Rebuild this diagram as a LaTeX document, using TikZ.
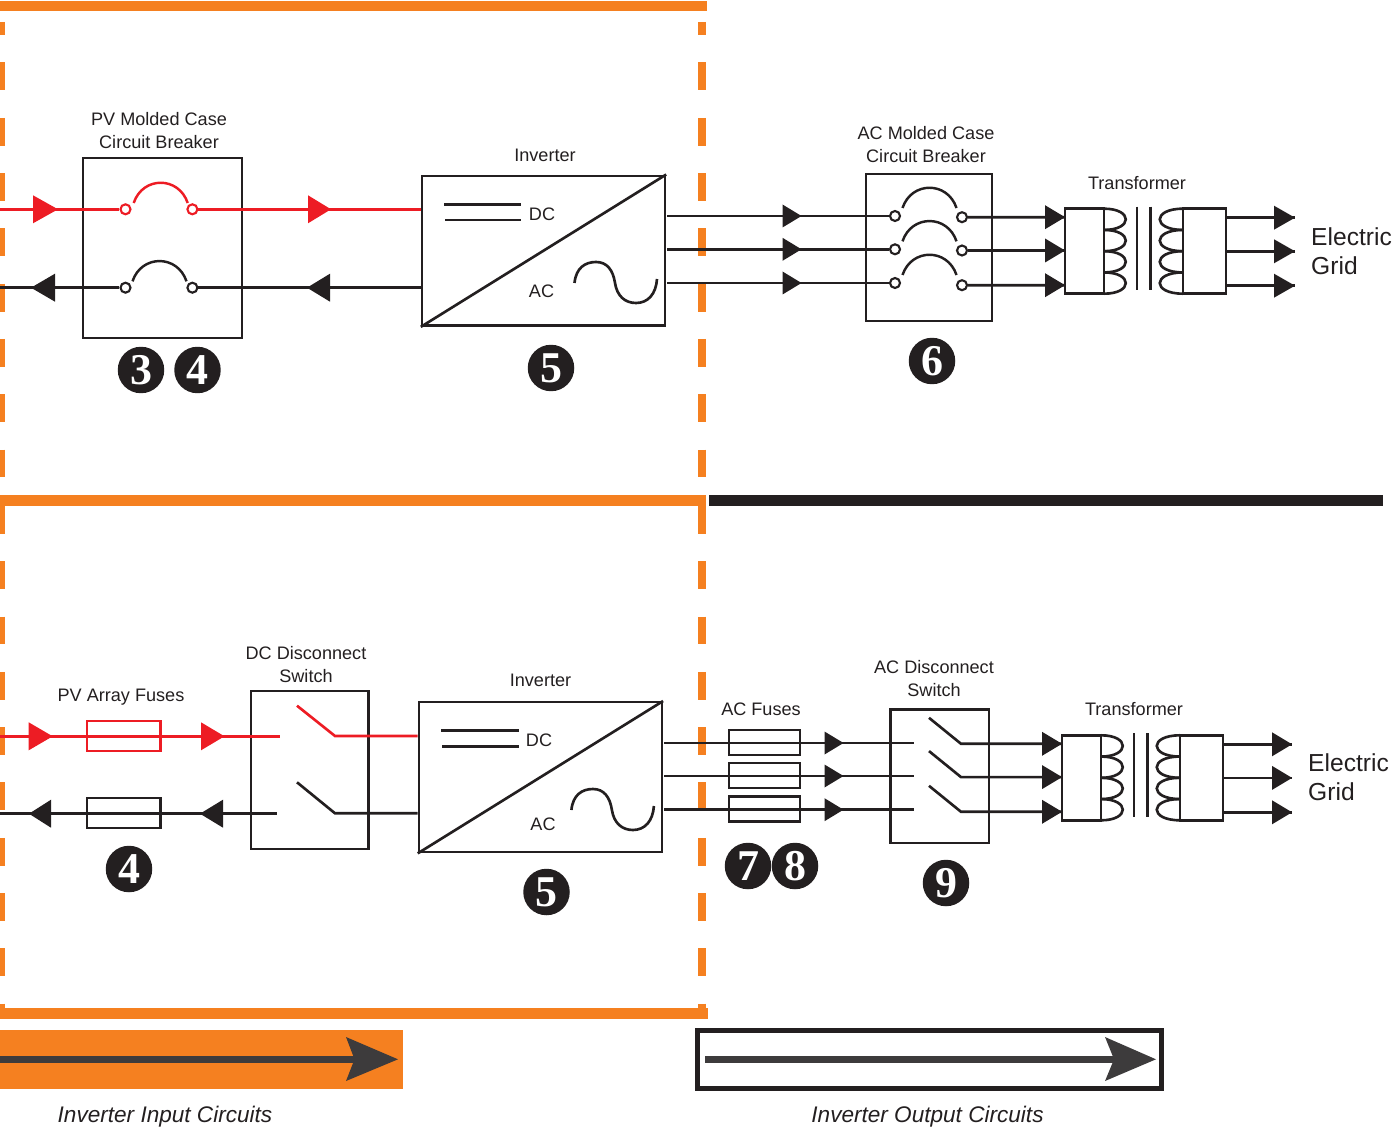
\documentclass[tikz,border=0pt]{standalone}
\usepackage{fontspec}
\setmainfont{Liberation Sans}
\newfontfamily\numfont{Liberation Serif}
\definecolor{inkblack}{HTML}{231F20}
\definecolor{pvred}{HTML}{ED1C24}
\definecolor{pvorange}{HTML}{F58020}
\definecolor{legendgray}{HTML}{3D3B3C}
\tikzset{
	wire/.style={line width=1.5pt, draw=inkblack},
	redwire/.style={line width=1.5pt, draw=pvred},
	box/.style={draw=inkblack, line width=1.35pt, inner sep=0pt},
	fuse/.style={draw=inkblack, line width=1.35pt, inner sep=0pt, minimum height=0.5cm},
	term/.style={circle, draw=inkblack, fill=white, line width=1.2pt, inner sep=0pt, minimum size=0.2cm},
	lbl/.style={text=inkblack, font=\fontsize{10.3}{12}\selectfont, align=center},
	biglbl/.style={text=inkblack, font=\fontsize{14}{16}\selectfont, anchor=west},
	capt/.style={text=inkblack, font=\fontsize{12.85}{15}\selectfont\itshape},
	numdot/.style={circle, fill=inkblack, text=white, inner sep=0pt, minimum size=0.93cm, font=\fontsize{25}{25}\selectfont\numfont\bfseries},
	dashbar/.style={draw=pvorange, dash pattern=on 15.87pt off 15.6pt},
	cbarc/.pic={\draw[pic actions, line width=1.4pt] (-27,20) .. controls (-18,-7) and (18,-7) .. (27,20);},
	sinewave/.pic={\draw[wire] (0,0) .. controls (1.5,-15) and (10.5,-21) .. (21.5,-21) .. controls (32.5,-21) and (38.5,-13) .. (40.5,0) .. controls (42.5,13) and (50.5,20) .. (61.5,20) .. controls (73.5,20) and (81.5,11) .. (82.5,-4);},
	xfmr/.pic={
		\foreach \t in {0,21.25,42.5,63.75} {
			\draw[wire] (39,\t) .. controls (68,\t) and (68,\t+21.25) .. (39,\t+21.25);
			\draw[wire] (118,\t) .. controls (87,\t) and (87,\t+21.25) .. (118,\t+21.25);
		}
		\draw[wire] (0,0) rectangle (39,85);
		\draw[wire] (118,0) rectangle (161,85);
		\draw[wire] (72,-2) -- (72,81.5);
		\draw[wire] (85.5,-2) -- (85.5,81.5);
		\foreach \n/\a/\b in {1/8.5/9, 2/41.8/42.6, 3/76.5/77} {
			\coordinate (-in\n) at (0,\a);
			\coordinate (-out\n) at (161,\b);
			\coordinate (-end\n) at (230,\b);
		}
	},
}
% tip point, length (negative points left), half height, colour
\newcommand{\head}[4]{\fill[#4] #1 -- ++({-1*(#2)},#3) -- ++(0,{-2*(#3)}) -- cycle;}
\begin{document}
\begin{tikzpicture}[x=0.02cm, y=-0.02cm]
	\useasboundingbox (0,0) rectangle (1398,1131);

	% orange frame and divider
	\fill[pvorange] (0,1) rectangle (707,11);
	\fill[pvorange] (0,495) rectangle (706,506);
	\fill[pvorange] (0,1008) rectangle (708,1019);
	\fill[inkblack] (709,495) rectangle (1383,506);
	\foreach \x/\w in {2.5/2.83pt, 702/4.9pt} {
		\draw[draw=pvorange, line width=\w] (\x,22) -- (\x,35);
		\draw[dashbar, line width=\w] (\x,62.5) -- (\x,495);
		\draw[dashbar, line width=\w] (\x,506) -- (\x,1008);
	}

	% upper panel, PV side
	\node[box, minimum width=3.18cm, minimum height=3.59cm] (brkA) at (162.3,248) {};
	\node[box, minimum width=4.86cm, minimum height=3cm] (invA) at (543.5,250.7) {};
	\coordinate (startA) at (0,209.3);
	\coordinate (startB) at (0,287.7);
	\node[term, draw=pvred] (tA1) at (125.5,209.3) {};
	\node[term, draw=pvred] (tA2) at (192.4,209.3) {};
	\node[term] (tB1) at (125.5,287.7) {};
	\node[term] (tB2) at (192.4,287.7) {};
	\draw[redwire] (startA) -- (tA1);
	\draw[redwire] (tA2) -- (tA2 -| invA.west);
	\draw[wire] (startB) -- (tB1);
	\draw[wire] (tB2) -- (tB2 -| invA.west);
	\pic[draw=pvred] at (160.7,183) {cbarc};
	\pic[draw=inkblack] at (159.5,261.3) {cbarc};
	\head{(58,209.3)}{25}{14}{pvred}
	\head{(331,209.3)}{23}{14}{pvred}
	\head{(31,287.7)}{-24}{14}{inkblack}
	\head{(307,287.7)}{-23}{14}{inkblack}
	\node[lbl] (brkAlbl) at (159,130.5) {PV Molded Case\\[1pt]Circuit Breaker};
	\node[lbl] (invAlbl) at (545,155.5) {Inverter};
	\node[numdot] (n3) at (141,370) {3};
	\node[numdot] (n4a) at (197.5,370) {4};
	\node[numdot] (n5a) at (551,368) {5};

	% inverter symbol, upper
	\draw[wire] (invA.south west) -- (invA.north east);
	\draw[wire] (444,204.3) -- (521,204.3);
	\draw[wire] (445,220) -- (521,220);
	\node[lbl] (dcA) at (542,214) {DC};
	\node[lbl] (acA) at (541.5,291) {AC};
	\pic at (574.5,283) {sinewave};

	% upper panel, grid side
	\node[box, minimum width=2.52cm, minimum height=2.94cm] (brkC) at (929,247.5) {};
	\pic (xa) at (1065,208.7) {xfmr};
	\foreach \n/\y/\r in {1/216/217.2, 2/249.3/250.5, 3/283/285.2} {
		\coordinate (startC\n) at (667,\y);
		\node[term] (tC\n) at (895,\y) {};
		\node[term] (tD\n) at (962,\r) {};
		\draw[wire] (startC\n) -- (tC\n);
		\draw[wire] (tD\n) -- (xa-in\n);
		\pic[draw=inkblack] at (929.5,\y-28) {cbarc};
		\head{(801.5,\y)}{19}{11.5}{inkblack}
		\head{(xa-in\n)}{20}{12}{inkblack}
		\draw[wire] (xa-out\n) -- (xa-end\n);
		\head{(xa-end\n)}{21}{12}{inkblack}
	}
	\node[lbl] (brkClbl) at (926,144.5) {AC Molded Case\\[1pt]Circuit Breaker};
	\node[lbl] (xalbl) at (1137,183.5) {Transformer};
	\node[biglbl] (gridA1) at (1305,236.5) {Electric};
	\node[biglbl] (gridA2) at (1305,265.5) {Grid};
	\node[numdot] (n6) at (932,361) {6};

	% lower panel, PV side
	\node[box, minimum width=2.35cm, minimum height=3.16cm] (swA) at (309.8,769.7) {};
	\node[box, minimum width=4.86cm, minimum height=3cm] (invB) at (540.4,777.2) {};
	\node[fuse, draw=pvred, minimum width=1.47cm, minimum height=0.6cm] (fuA) at (123.8,735.7) {};
	\node[fuse, minimum width=1.47cm, minimum height=0.6cm] (fuB) at (123.8,812.8) {};
	\coordinate (startE) at (0,736.3);
	\coordinate (stopE) at (280,736.3);
	\coordinate (startF) at (0,813.7);
	\coordinate (stopF) at (277,813.7);
	\coordinate (hingeE) at (335,736);
	\coordinate (hingeF) at (335,813.3);
	\draw[redwire] (startE) -- (stopE);
	\draw[wire] (startF) -- (stopF);
	\draw[redwire] (297,705.7) -- (hingeE) -- (hingeE -| invB.west);
	\draw[wire] (297,782.3) -- (hingeF) -- (hingeF -| invB.west);
	\head{(52.7,736.3)}{24}{14}{pvred}
	\head{(224.5,736.3)}{23.5}{14}{pvred}
	\head{(29,813.7)}{-22}{14}{inkblack}
	\head{(200,813.7)}{-23}{14}{inkblack}
	\node[lbl] (fuAlbl) at (121,697) {PV Array Fuses};
	\node[lbl] (swAlbl) at (306,664.5) {DC Disconnect\\[1pt]Switch};
	\node[lbl] (invBlbl) at (540.5,680.5) {Inverter};
	\node[numdot] (n4b) at (129,869) {4};
	\node[numdot] (n5b) at (546.5,892) {5};

	% inverter symbol, lower
	\draw[wire] (invB.south west) -- (invB.north east);
	\draw[wire] (441,730.7) -- (519,730.7);
	\draw[wire] (442,746.7) -- (519,746.7);
	\node[lbl] (dcB) at (539,740) {DC};
	\node[lbl] (acB) at (543,824) {AC};
	\pic at (571.4,810) {sinewave};

	% lower panel, grid side
	\node[box, minimum width=1.97cm, minimum height=2.68cm] (swB) at (939.7,776.3) {};
	\pic (xb) at (1062,735.3) {xfmr};
	\foreach \n/\y/\f/\r in {1/743/742.5/743.8, 2/776/775.8/777.1, 3/809.7/809/811.8} {
		\coordinate (startG\n) at (664,\y);
		\coordinate (stopG\n) at (913.5,\y);
		\coordinate (hingeG\n) at (961,\r);
		\node[fuse, minimum width=1.43cm] (fuC\n) at (764.5,\f) {};
		\draw[wire] (startG\n) -- (stopG\n);
		\draw[wire] (929,\r-26) -- (hingeG\n) -- (xb-in\n);
		\head{(843.5,\y)}{19}{11.5}{inkblack}
		\head{(xb-in\n)}{20}{12}{inkblack}
		\draw[wire] (xb-out\n) -- (xb-end\n);
		\head{(xb-end\n)}{20}{12}{inkblack}
	}
	\node[lbl] (fuClbl) at (761,709.5) {AC Fuses};
	\node[lbl] (swBlbl) at (934,678.5) {AC Disconnect\\[1pt]Switch};
	\node[lbl] (xblbl) at (1134,709.5) {Transformer};
	\node[biglbl] (gridB1) at (1302,763) {Electric};
	\node[biglbl] (gridB2) at (1302,792) {Grid};
	\node[numdot] (n7) at (748,866) {7};
	\node[numdot] (n8) at (795,866) {8};
	\node[numdot] (n9) at (946,883) {9};

	% legend
	\fill[pvorange] (0,1030) rectangle (403,1089);
	\draw[draw=inkblack, line width=2.8pt] (697.5,1030.5) rectangle (1161.5,1088.3);
	\draw[draw=legendgray, line width=4pt] (0,1059.3) -- (356,1059.3);
	\fill[legendgray] (398,1059.3) -- (346,1037) -- (354.5,1059.3) -- (346,1081) -- cycle;
	\draw[draw=legendgray, line width=4pt] (705,1059.3) -- (1115,1059.3);
	\fill[legendgray] (1156,1059.3) -- (1105,1037) -- (1114,1059.3) -- (1105,1081) -- cycle;
	\node[capt] (captA) at (165,1117) {Inverter Input Circuits};
	\node[capt] (captB) at (927.5,1117) {Inverter Output Circuits};
\end{tikzpicture}
\end{document}
